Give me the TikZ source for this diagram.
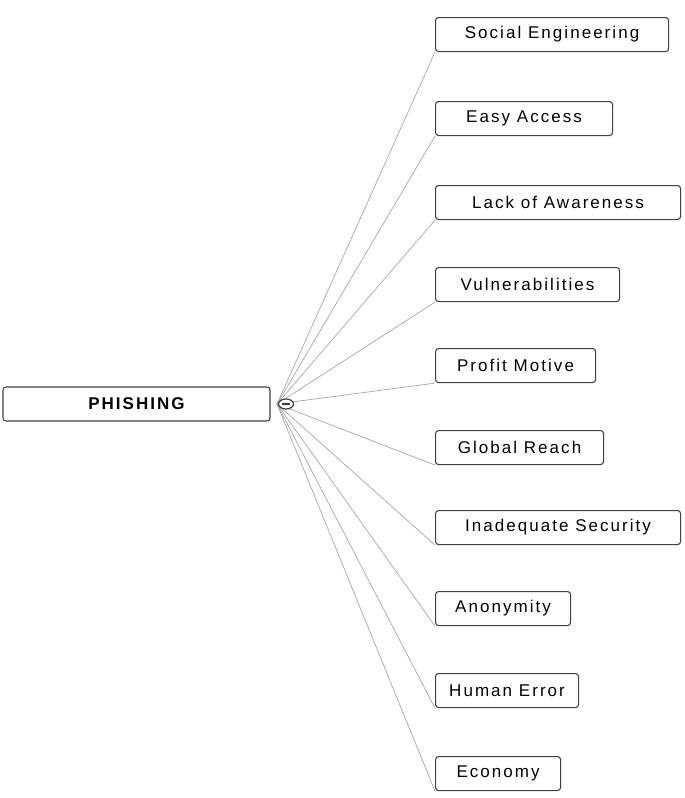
\documentclass[tikz,border=0pt]{standalone}
\usepackage{fontspec}
\setmainfont{Liberation Sans}
\newfontfamily\spaced[LetterSpace=12]{Liberation Sans}
\usetikzlibrary{shapes.geometric}
\begin{document}
\begin{tikzpicture}[x=1pt,y=-1pt,
  box/.style={draw=black!75,line width=1.1pt,rounded corners=3pt,anchor=north west,inner sep=0pt,font=\spaced\fontsize{17}{19}\selectfont},
  link/.style={draw=black!35,line width=0.7pt}]
\useasboundingbox (0,0) rectangle (685,798);
\node[box,minimum width=267pt,minimum height=34pt,anchor=center,font=\spaced\fontsize{17}{19}\selectfont\bfseries] (root) at (136.5,404) {PHISHING};
\coordinate (hub) at (277,404);
\foreach \n/\t/\w/\y in {a/Social Engineering/233/17, b/Easy Access/177/101, c/Lack of Awareness/245/185, d/Vulnerabilities/184/267, e/Profit Motive/160/348, f/Global Reach/168/430, g/Inadequate Security/245/510, h/Anonymity/135/591, i/Human Error/143/673, j/Economy/125/756} {
  \node[box,minimum width=\w pt,minimum height=34pt] (\n) at (435,\y) {\t};
  \draw[link] (hub) -- (\n.south west);
}
\node[draw=black!75,fill=white,line width=1.2pt,ellipse,minimum width=15pt,minimum height=10pt,inner sep=0pt] (tog) at (286,404) {};
\draw[black!75,line width=1.2pt] (282,404) -- (290,404);
\end{tikzpicture}
\end{document}
